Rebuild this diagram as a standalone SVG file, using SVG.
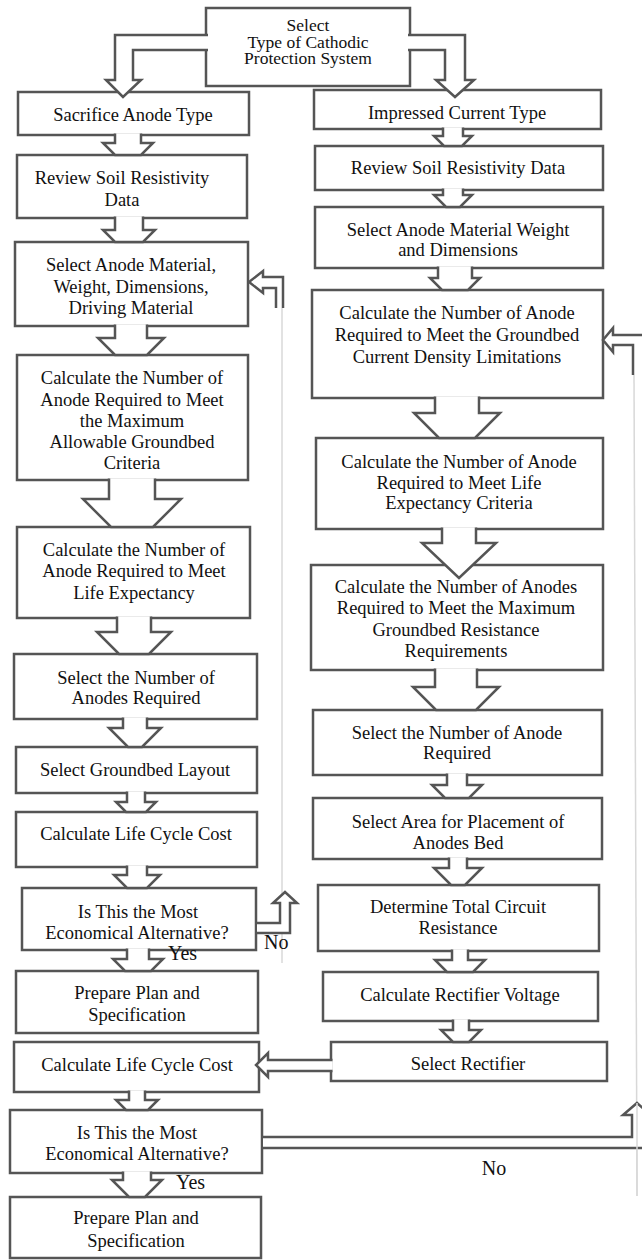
<svg xmlns="http://www.w3.org/2000/svg" width="642" height="1260" viewBox="0 0 642 1260">
<style>
.b{fill:#fff;stroke:#555;stroke-width:2.5}
.a{fill:#fff;stroke:#555;stroke-width:2.5;stroke-linejoin:miter}
.t{font-family:"Liberation Serif","Times New Roman",serif;font-size:18.5px;fill:#111;text-anchor:middle}
.tt{font-family:"Liberation Serif","Times New Roman",serif;font-size:17.5px;fill:#111;text-anchor:middle}
.lb{font-family:"Liberation Serif","Times New Roman",serif;font-size:20px;fill:#111}
.thin{stroke:#d8d8d8;stroke-width:1.5;fill:none}
</style>
<rect width="642" height="1260" fill="#fff"/>
<g id="guides">
<line class="thin" x1="282" y1="308" x2="282" y2="963"/>
<line class="thin" x1="634" y1="375" x2="637" y2="1196"/>
</g>
<g id="nodes">
<g id="n-top"><rect class="b" x="206" y="8" width="204" height="78"/><text class="tt" x="308" y="31">Select</text><text class="tt" x="308" y="47.5">Type of Cathodic</text><text class="tt" x="308" y="64">Protection System</text></g>
<g id="n-sac"><rect class="b" x="18" y="92" width="231" height="43"/><text class="t" x="133" y="121">Sacrifice Anode Type</text></g>
<g id="n-imp"><rect class="b" x="314" y="90" width="287" height="39"/><text class="t" x="457" y="119">Impressed Current Type</text></g>
<g id="l-review"><rect class="b" x="17" y="155" width="230" height="63"/><text class="t" x="122" y="184">Review Soil Resistivity</text><text class="t" x="122" y="206">Data</text></g>
<g id="l-select"><rect class="b" x="15" y="242" width="233" height="84"/><text class="t" x="131" y="271">Select Anode Material,</text><text class="t" x="131" y="293">Weight, Dimensions,</text><text class="t" x="131" y="314">Driving Material</text></g>
<g id="l-allow"><rect class="b" x="17" y="355" width="231" height="125"/><text class="t" x="132" y="384">Calculate the Number of</text><text class="t" x="132" y="406">Anode Required to Meet</text><text class="t" x="132" y="427">the Maximum</text><text class="t" x="132" y="448">Allowable Groundbed</text><text class="t" x="132" y="469">Criteria</text></g>
<g id="l-life"><rect class="b" x="17" y="527" width="233" height="91"/><text class="t" x="134" y="556">Calculate the Number of</text><text class="t" x="134" y="577">Anode Required to Meet</text><text class="t" x="134" y="599">Life Expectancy</text></g>
<g id="l-selnum"><rect class="b" x="14" y="654" width="243" height="65"/><text class="t" x="136" y="684">Select the Number of</text><text class="t" x="136" y="704">Anodes Required</text></g>
<g id="l-layout"><rect class="b" x="16" y="747" width="241" height="46"/><text class="t" x="135" y="776">Select Groundbed Layout</text></g>
<g id="l-lcc1"><rect class="b" x="16" y="812" width="241" height="55"/><text class="t" x="136" y="840">Calculate Life Cycle Cost</text></g>
<g id="l-dec1"><rect class="b" x="22" y="888" width="234" height="62"/><text class="t" x="138" y="918">Is This the Most</text><text class="t" x="137" y="939">Economical Alternative?</text></g>
<g id="l-prep1"><rect class="b" x="16" y="971" width="242" height="62"/><text class="t" x="137" y="999">Prepare Plan and</text><text class="t" x="137" y="1021">Specification</text></g>
<g id="l-lcc2"><rect class="b" x="14" y="1042" width="245" height="50"/><text class="t" x="137" y="1071">Calculate Life Cycle Cost</text></g>
<g id="l-dec2"><rect class="b" x="10" y="1110" width="252" height="63"/><text class="t" x="137" y="1139">Is This the Most</text><text class="t" x="137" y="1160">Economical Alternative?</text></g>
<g id="l-final"><rect class="b" x="10" y="1197" width="251" height="61"/><text class="t" x="136" y="1224">Prepare Plan and</text><text class="t" x="136" y="1247">Specification</text></g>
<g id="r-review"><rect class="b" x="315" y="146" width="288" height="44"/><text class="t" x="458" y="174">Review Soil Resistivity Data</text></g>
<g id="r-select"><rect class="b" x="315" y="207" width="288" height="61"/><text class="t" x="458" y="236">Select Anode Material Weight</text><text class="t" x="458" y="256">and Dimensions</text></g>
<g id="r-cd"><rect class="b" x="312" y="290" width="291" height="108"/><text class="t" x="457" y="319">Calculate the Number of Anode</text><text class="t" x="457" y="341">Required to Meet the Groundbed</text><text class="t" x="457" y="363">Current Density Limitations</text></g>
<g id="r-life"><rect class="b" x="316" y="438" width="287" height="91"/><text class="t" x="459" y="468">Calculate the Number of Anode</text><text class="t" x="459" y="489">Required to Meet Life</text><text class="t" x="459" y="509">Expectancy Criteria</text></g>
<g id="r-maxres"><rect class="b" x="311" y="565" width="292" height="105"/><text class="t" x="456" y="593">Calculate the Number of Anodes</text><text class="t" x="456" y="614">Required to Meet the Maximum</text><text class="t" x="456" y="636">Groundbed Resistance</text><text class="t" x="456" y="657">Requirements</text></g>
<g id="r-selnum"><rect class="b" x="313" y="710" width="289" height="65"/><text class="t" x="457" y="739">Select the Number of Anode</text><text class="t" x="457" y="759">Required</text></g>
<g id="r-area"><rect class="b" x="313" y="798" width="289" height="61"/><text class="t" x="458" y="828">Select Area for Placement of</text><text class="t" x="458" y="849">Anodes Bed</text></g>
<g id="r-det"><rect class="b" x="318" y="885" width="281" height="66"/><text class="t" x="458" y="913">Determine Total Circuit</text><text class="t" x="458" y="934">Resistance</text></g>
<g id="r-calcrect"><rect class="b" x="323" y="972" width="275" height="49"/><text class="t" x="460" y="1001">Calculate Rectifier Voltage</text></g>
<g id="r-selrect"><rect class="b" x="331" y="1042" width="276" height="39"/><text class="t" x="468" y="1070">Select Rectifier</text></g>
</g>
<g id="connectors">
<path class="a" d="M208,35 H115 V80 H106 L123,97 L141,80 H133 V50 H208"/>
<path class="a" d="M408,35 H465 V80 H474 L455,97 L436,80 H445 V50 H408"/>
<path class="a" d="M115,133.5 V143 H103 L115,155 H141 L153,143 H141 V133.5"/>
<path class="a" d="M115,216.5 V230 H103 L115,242 H143 L155,230 H143 V216.5"/>
<path class="a" d="M115,324.5 V338 H98 L115,355 H147 L164,338 H147 V324.5"/>
<path class="a" d="M109,478.5 V499 H83 L111,527 H153 L181,499 H155 V478.5"/>
<path class="a" d="M117,616.5 V632 H97 L119,654 H149 L171,632 H151 V616.5"/>
<path class="a" d="M123,717.5 V728 H109 L128,747 H142 L161,728 H147 V717.5"/>
<path class="a" d="M127,791.5 V802 H116 L126,812 H146 L156,802 H145 V791.5"/>
<path class="a" d="M127,865.5 V875 H114 L127,888 H147 L160,875 H147 V865.5"/>
<path class="a" d="M127,948.5 V959 H113 L125,971 H151 L163,959 H149 V948.5"/>
<path class="a" d="M129,1090.5 V1100 H116 L126,1110 H148 L158,1100 H145 V1090.5"/>
<path class="a" d="M123,1171.5 V1180 H112 L129,1197 H145 L162,1180 H151 V1171.5"/>
<path class="a" d="M443,127.5 V136 H434 L444,146 H462 L472,136 H463 V127.5"/>
<path class="a" d="M443,188.5 V195 H434 L446,207 H460 L472,195 H463 V188.5"/>
<path class="a" d="M438,266.5 V278 H430 L442,290 H468 L480,278 H472 V266.5"/>
<path class="a" d="M435,396.5 V413 H414 L439,438 H475 L500,413 H479 V396.5"/>
<path class="a" d="M442,527.5 V543 H422 L459,578 L496,543 H476 V527.5"/>
<path class="a" d="M435,668.5 V687 H413 L436,710 H476 L499,687 H477 V668.5"/>
<path class="a" d="M447,773.5 V785 H432 L445,798 H469 L482,785 H467 V773.5"/>
<path class="a" d="M449,857.5 V868 H434 L451,885 H465 L482,868 H467 V857.5"/>
<path class="a" d="M452,949.5 V960 H435 L447,972 H473 L485,960 H468 V949.5"/>
<path class="a" d="M453,1019.5 V1030 H441 L453,1042 H469 L481,1030 H469 V1019.5"/>
<path class="a" d="M332.5,1060 H268 V1053 L256,1065 L268,1077 V1071 H332.5"/>
<path class="a" d="M276,308 V288 H263 V293 L249,282 L263,271 V277 H283 V308"/>
<path class="a" d="M257,923 H280 V903 H273 L285,892 L297,903 H290 V933 H257"/>
<path class="a" d="M650,335 H613 V328 L603,340 L613,352 V345 H633 V375 H650 Z" style="stroke:none"/>
<path class="a" d="M650,335 H613 V328 L603,340 L613,352 V345 H633 V375" style="fill:none"/>
<path class="a" d="M263,1137 H632 V1115 H623 L637,1103 L651,1115 H644 V1148 H263"/>
<line class="thin" x1="637" y1="1103" x2="637" y2="1196"/>
</g>
<g id="labels">
<text class="lb" x="264" y="949">No</text>
<text class="lb" x="168" y="960">Yes</text>
<text class="lb" x="494" y="1175" text-anchor="middle">No</text>
<text class="lb" x="176" y="1189">Yes</text>
</g>
</svg>
